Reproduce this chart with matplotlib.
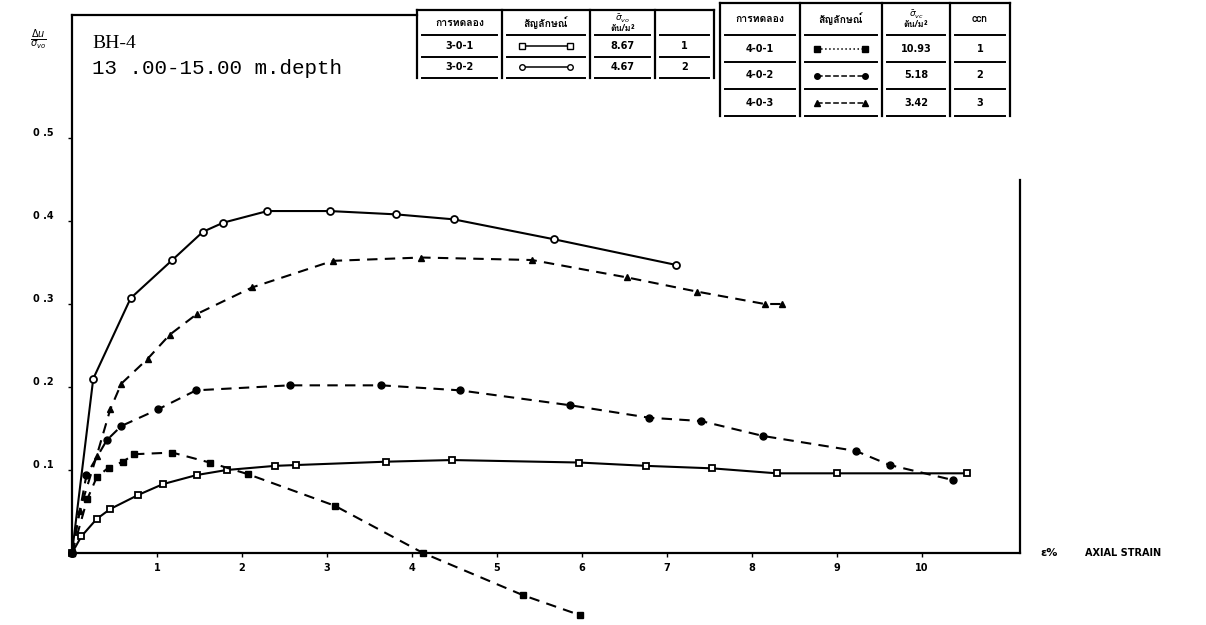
import matplotlib.pyplot as plt
import matplotlib.transforms as mtransforms
from matplotlib import font_manager
from matplotlib.ft2font import FT2Font
from matplotlib.lines import Line2D

W, H = 1206, 625

# test 3-0-1 : open squares, solid
s301_x = [0, 0.11, 0.29, 0.45, 0.78, 1.07, 1.47, 1.82, 2.39, 2.64, 3.69, 4.47, 5.97, 6.75, 7.53, 8.29, 9.0, 10.53]
s301_y = [0, 0.020, 0.041, 0.053, 0.070, 0.083, 0.094, 0.100, 0.105, 0.106, 0.110, 0.112, 0.109, 0.105, 0.102, 0.096, 0.096, 0.096]

# test 3-0-2 : open circles, solid
s302_x = [0, 0.25, 0.69, 1.18, 1.54, 1.78, 2.30, 3.03, 3.81, 4.49, 5.67, 7.11]
s302_y = [0, 0.210, 0.307, 0.353, 0.387, 0.398, 0.412, 0.412, 0.408, 0.402, 0.378, 0.347]

# test 4-0-1 : filled squares, dashed
s401_x = [0, 0.18, 0.29, 0.43, 0.60, 0.73, 1.18, 1.62, 2.07, 3.09, 4.13, 5.31, 5.98]
s401_y = [0, 0.065, 0.091, 0.103, 0.110, 0.119, 0.121, 0.109, 0.095, 0.057, 0.0, -0.051, -0.075]

# test 4-0-2 : filled circles, dashed
s402_x = [0, 0.17, 0.41, 0.58, 1.01, 1.46, 2.56, 3.64, 4.56, 5.86, 6.79, 7.40, 8.13, 9.22, 9.62, 10.36]
s402_y = [0, 0.094, 0.136, 0.153, 0.173, 0.196, 0.202, 0.202, 0.196, 0.178, 0.163, 0.159, 0.141, 0.123, 0.106, 0.088]

# test 4-0-3 : triangles, dashed
s403_x = [0, 0.09, 0.29, 0.45, 0.58, 0.89, 1.15, 1.47, 2.12, 3.07, 4.11, 5.41, 6.53, 7.35, 8.15, 8.35]
s403_y = [0, 0.051, 0.117, 0.173, 0.204, 0.234, 0.263, 0.288, 0.320, 0.352, 0.356, 0.353, 0.332, 0.315, 0.300, 0.300]

x_ticks = [1, 2, 3, 4, 5, 6, 7, 8, 9, 10]
y_ticks = [0.1, 0.2, 0.3, 0.4, 0.5]
y_tick_labels = ['0 .1', '0 .2', '0 .3', '0 .4', '0 .5']

# table contents
t1_header = ['การทดลอง', 'สัญลักษณ์', r'$\bar{\sigma}_{vo}$' + '\nตัน/ม²', '']
t1_tests = ['3-0-1', '3-0-2']
t1_sigma = ['8.67', '4.67']
t1_no = ['1', '2']
t2_header = ['การทดลอง', 'สัญลักษณ์', r'$\bar{\sigma}_{vc}$' + '\nตัน/ม²', 'ccn']
t2_tests = ['4-0-1', '4-0-2', '4-0-3']
t2_sigma = ['10.93', '5.18', '3.42']
t2_no = ['1', '2', '3']


def has_thai(path):
    try:
        return 0x0E01 in FT2Font(path).get_charmap()
    except Exception:
        return False


# any installed family that carries Thai glyphs goes first
thai_found = []
for f in font_manager.fontManager.ttflist:
    if f.name not in thai_found and has_thai(f.fname):
        thai_found.append(f.name)
thai_fonts = thai_found + ['DejaVu Sans']

fig = plt.figure(figsize=(W / 100, H / 100), dpi=100)


def fx(px):
    return px / W


def fy(py):
    return 1 - py / H


x0, x1 = 72, 1020
y0, y1 = 553, 15
ax = fig.add_axes([fx(x0), fy(y0), (x1 - x0) / W, (y0 - y1) / H])
ax.set_xlim(0, (x1 - x0) / 85)
ax.set_ylim(0, (y0 - y1) / 830)

solid = dict(color='black', lw=1.5, clip_on=False)
dashed = dict(color='black', lw=1.5, ls=(0, (5, 3.5)), clip_on=False)

ax.plot(s301_x, s301_y, marker='s', ms=4.5, mfc='white', mec='black', mew=1.3, **solid)
ax.plot(s302_x, s302_y, marker='o', ms=5, mfc='white', mec='black', mew=1.3, **solid)
ax.plot(s401_x, s401_y, marker='s', ms=4.5, mfc='black', mec='black', **dashed)
ax.plot(s402_x, s402_y, marker='o', ms=5, mfc='black', mec='black', **dashed)
ax.plot(s403_x, s403_y, marker='^', ms=5, mfc='black', mec='black', **dashed)

ax.spines['top'].set_visible(False)
for side in ['left', 'bottom', 'right']:
    ax.spines[side].set_linewidth(1.6)
ax.spines['right'].set_bounds(0, (y0 - 180) / 830)
# top edge of the frame runs only up to the first table
ax.axhline(ax.get_ylim()[1], xmax=(417 - x0) / (x1 - x0), color='black', lw=1.6, clip_on=False)

ax.set_xticks(x_ticks)
ax.set_xticklabels([str(v) for v in x_ticks], fontsize=7, fontweight='bold')
ax.set_yticks(y_ticks)
ax.set_yticklabels(y_tick_labels, fontsize=7, fontweight='bold')
ax.tick_params(axis='both', length=3, width=1, direction='out')
ax.tick_params(axis='y', pad=10)
ax.tick_params(axis='x', pad=4)
lift = mtransforms.ScaledTranslation(0, 6 / 100, fig.dpi_scale_trans)
for lab in ax.get_yticklabels():
    lab.set_transform(lab.get_transform() + lift)
ax.patch.set_alpha(0)

# axis titles
fig.text(fx(38), fy(40), r'$\frac{\Delta u}{\sigma_{vo}}$', fontsize=10, ha='center', va='center')
fig.text(fx(1040), fy(553), 'ε%', fontsize=8, fontweight='bold', ha='left', va='center')
fig.text(fx(1085), fy(553), 'AXIAL STRAIN', fontsize=7, fontweight='bold', ha='left', va='center')

fig.text(fx(92), fy(43), 'BH-4', fontsize=14, family='Liberation Serif', ha='left', va='center')
fig.text(fx(92), fy(68), '13 .00-15.00 m.depth', fontsize=15, family='Liberation Mono', ha='left', va='center')


def hline(xa, xb, py, lw=1.4):
    fig.add_artist(Line2D([fx(xa), fx(xb)], [fy(py), fy(py)], color='black', lw=lw))


def vline(px, ya, yb, lw=1.6):
    fig.add_artist(Line2D([fx(px), fx(px)], [fy(ya), fy(yb)], color='black', lw=lw))


def symbol(xa, xb, py, marker, mfc, ls):
    fig.add_artist(Line2D([fx(xa), fx(xb)], [fy(py), fy(py)], color='black', lw=1.1, ls=ls,
                          marker=marker, ms=4, mfc=mfc, mec='black'))


def draw_table(cols, top, head_bottom, row_h, header, tests, sigmas, nums, symbols):
    bottom = head_bottom + row_h * len(tests)
    hline(cols[0], cols[-1], top, lw=1.6)
    for c in cols:
        vline(c, top, bottom)
    centers = [(cols[i] + cols[i + 1]) / 2 for i in range(len(cols) - 1)]
    for i, txt in enumerate(header):
        if txt:
            size = 6.5 if '\n' in txt else 7.5
            fig.text(fx(centers[i]), fy((top + head_bottom) / 2), txt, fontsize=size, fontweight='bold',
                     family=thai_fonts, ha='center', va='center', linespacing=0.85)
    for k in range(len(tests) + 1):
        ly = head_bottom + row_h * k
        for i in range(len(cols) - 1):
            hline(cols[i] + 5, cols[i + 1] - 5, ly)
    for r in range(len(tests)):
        cy = head_bottom + row_h * (r + 0.5)
        fig.text(fx(centers[0]), fy(cy), tests[r], fontsize=7, fontweight='bold', ha='center', va='center')
        fig.text(fx(centers[2]), fy(cy), sigmas[r], fontsize=7, fontweight='bold', ha='center', va='center')
        fig.text(fx(centers[3]), fy(cy), nums[r], fontsize=7, fontweight='bold', ha='center', va='center')
        m, mfc, ls = symbols[r]
        symbol(centers[1] - 24, centers[1] + 24, cy, m, mfc, ls)


draw_table([417, 502, 590, 655, 714], 10, 35, 21.5, t1_header, t1_tests, t1_sigma, t1_no,
           [('s', 'white', '-'), ('o', 'white', '-')])
draw_table([720, 800, 882, 950, 1010], 3, 35, 27, t2_header, t2_tests, t2_sigma, t2_no,
           [('s', 'black', ':'), ('o', 'black', '--'), ('^', 'black', '--')])

fig.savefig('out.png', dpi=100)
